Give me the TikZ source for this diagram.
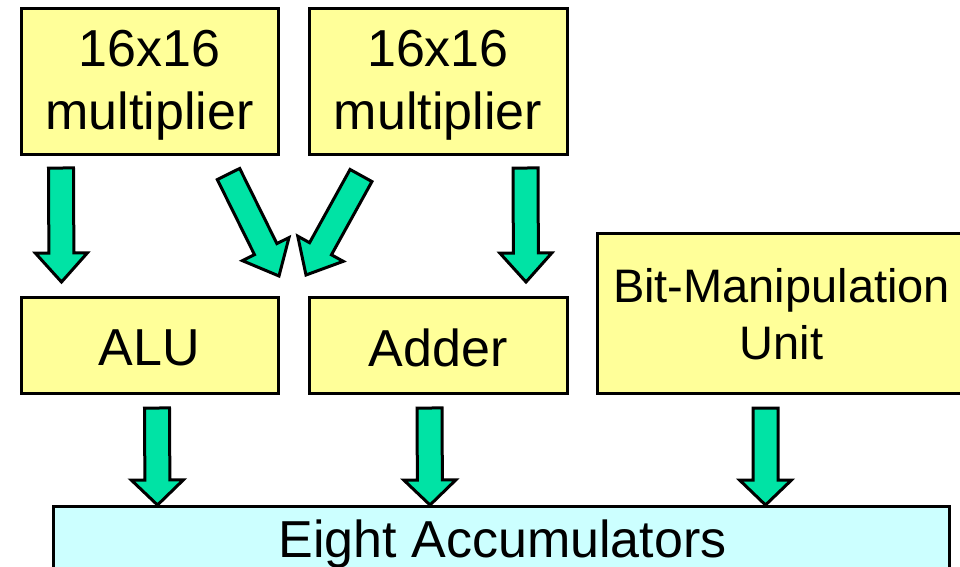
\documentclass[tikz,border=0pt]{standalone}
\usepackage{fontspec}
\setmainfont{Liberation Sans}
\usetikzlibrary{calc}
\definecolor{boxyellow}{HTML}{FFFF99}
\definecolor{boxcyan}{HTML}{CCFFFF}
\definecolor{arrowgreen}{HTML}{00E3A5}
\tikzset{
  unitbox/.style={draw=black, line width=3pt, fill=boxyellow, inner sep=0pt},
  accbox/.style={unitbox, fill=boxcyan},
  boxtext/.style={inner sep=0pt, align=center, font=\fontsize{52}{63}\selectfont},
  blockarr/.style={draw=black, line width=3pt, fill=arrowgreen, line join=miter},
}
% #1 head length, #2 start coordinate, #3 tip coordinate
\newcommand{\blockarrow}[3][28]{%
  \coordinate (hb) at ($(#3)!#1pt!(#2)$);
  \draw[blockarr] ($(#2)!12.5pt!90:(#3)$) -- ($(hb)!12.5pt!90:(#3)$)
    -- ($(hb)!26pt!90:(#3)$) -- (#3) -- ($(hb)!26pt!-90:(#3)$)
    -- ($(hb)!12.5pt!-90:(#3)$) -- ($(#2)!12.5pt!-90:(#3)$) -- cycle;
}
\begin{document}
\begin{tikzpicture}[x=1pt,y=-1pt]
\useasboundingbox (0,0) rectangle (960,566);
\clip (0,0) rectangle (960,566);
\fill[white] (0,0) rectangle (960,566);

\node[unitbox, minimum width=257pt, minimum height=146pt] (m1) at (149.5,81) {};
\node[unitbox, minimum width=258pt, minimum height=146pt] (m2) at (438,81) {};
\node[unitbox, minimum width=257pt, minimum height=96pt] (alu) at (149.5,345) {};
\node[unitbox, minimum width=258pt, minimum height=96pt] (add) at (438,345) {};
\node[unitbox, minimum width=369pt, minimum height=160pt] (bmu) at (781.5,313) {};
\node[accbox, minimum width=896pt, minimum height=120pt, anchor=north] (acc) at (501,505) {};

\node[boxtext] (m1l) at ($(m1.center)+(0,4)$) {16x16\\multiplier};
\node[boxtext] (m2l) at ($(m2.center)+(0,4)$) {16x16\\multiplier};
\node[boxtext] (alul) at ($(alu.center)+(0,3)$) {ALU};
\node[boxtext] (addl) at ($(add.center)+(0,3)$) {Adder};
\node[boxtext, font=\fontsize{47}{57}\selectfont] (bmul) at ($(bmu.center)+(0,1)$) {Bit-Manipulation\\Unit};
\node[boxtext, anchor=base] (accl) at (502.5,557) {Eight Accumulators};

\coordinate (a1s) at (61,168);    \coordinate (a1t) at (61.5,282);
\coordinate (a2s) at (228.5,174); \coordinate (a2t) at (279,276);
\coordinate (a3s) at (361,175.5); \coordinate (a3t) at (306,275);
\coordinate (a4s) at (525.5,168); \coordinate (a4t) at (526,282);
\coordinate (a5s) at (157,408);   \coordinate (a5t) at (157.5,505);
\coordinate (a6s) at (429.5,408); \coordinate (a6t) at (430,505);
\coordinate (a7s) at (765.5,408); \coordinate (a7t) at (765.5,505);

\blockarrow[29]{a1s}{a1t}
\blockarrow[30]{a2s}{a2t}
\blockarrow[30]{a3s}{a3t}
\blockarrow[29]{a4s}{a4t}
\blockarrow[25]{a5s}{a5t}
\blockarrow[25]{a6s}{a6t}
\blockarrow[25]{a7s}{a7t}
\end{tikzpicture}
\end{document}
